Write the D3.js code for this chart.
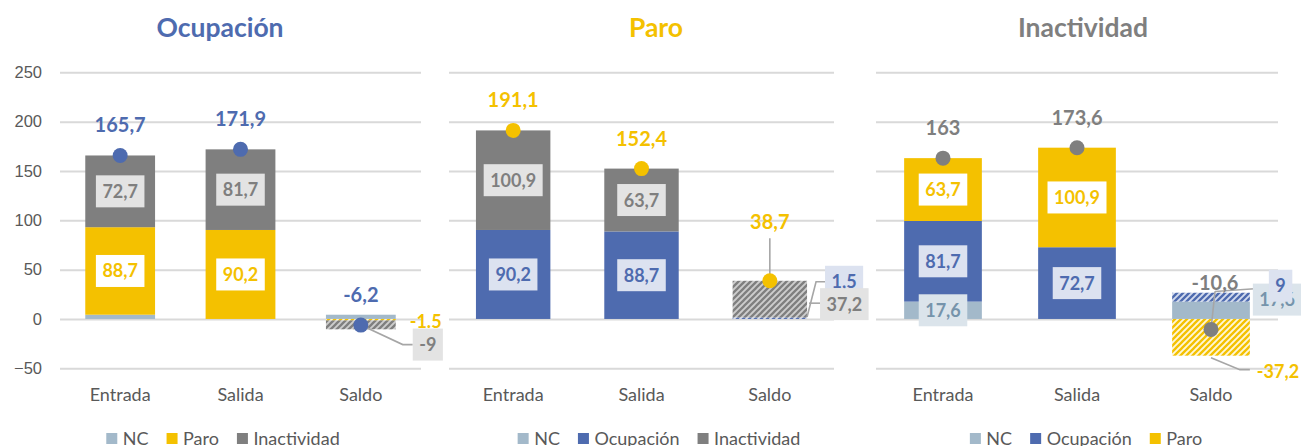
<!DOCTYPE html>
<html>
<head>
<meta charset="utf-8">
<script src="https://cdn.jsdelivr.net/npm/d3@7"></script>
<style>
body { margin: 0; background: #fff; }
svg { display: block; font-family: Lato, "Open Sans", sans-serif; }
.grid line { stroke: #d9d9d9; stroke-width: 2; }
.grid .domain { display: none; }
.grid text { fill: #595959; font-size: 16.5px; }
.cat { fill: #595959; font-size: 18px; }
.legend text { fill: #595959; font-size: 18px; }
.lbl { font-size: 18px; font-weight: bold; }
.tot { font-size: 20px; font-weight: bold; }
.title { font-size: 26.5px; font-weight: bold; }
.leader { stroke: #a6a6a6; stroke-width: 1.6; fill: none; }
</style>
</head>
<body>
<div id="chart"></div>
<script>
var categories = ["Entrada", "Salida", "Saldo"];
var yTicks = [-50, 0, 50, 100, 150, 200, 250];

// Ocupación
var ocupNC = [4.3, 0, 4.3];
var ocupParo = [88.7, 90.2, -1.5];
var ocupInact = [72.7, 81.7, -9];
var ocupTotal = [165.7, 171.9, -6.2];

// Paro
var paroNC = [0, 0, 0];
var paroOcup = [90.2, 88.7, 1.5];
var paroInact = [100.9, 63.7, 37.2];
var paroTotal = [191.1, 152.4, 38.7];

// Inactividad
var inactNC = [17.6, 0, 17.6];
var inactOcup = [81.7, 72.7, 9];
var inactParo = [63.7, 100.9, -37.2];
var inactTotal = [163, 173.6, -10.6];

var blue = "#4e6baf", yellow = "#f4c100", grey = "#7f7f7f", nc = "#a3b9ca";
var styles = {
    NC: { color: nc, box: "#dbe4eb", text: "#7694ab" },
    "Ocupación": { color: blue, box: "#dce2f0", text: blue },
    Paro: { color: yellow, box: "#ffffff", text: yellow },
    Inactividad: { color: grey, box: "#e3e3e3", text: grey }
};

var locale = d3.formatLocale({ decimal: ",", thousands: ".", grouping: [3], currency: ["", ""], minus: "-" });
var fmt = locale.format(".1~f");

function init(){
    var w = 1301;
    var h = 446;

    var svg = d3.select("#chart")
                .append("svg")
                .attr("width", w)
                .attr("height", h);

    var defs = svg.append("defs");
    addHatch(defs, "h-Ocupación", blue, "#d3dbee");
    addHatch(defs, "h-Paro", yellow, "#fff7d6");
    addHatch(defs, "h-Inactividad", grey, "#cdcdcd");

    drawPanel(svg, {
        title: "Ocupación", titleColor: blue, x0: 60, x1: 421, cx: 220, ticks: true,
        keys: ["NC", "Paro", "Inactividad"], values: [ocupNC, ocupParo, ocupInact], total: ocupTotal,
        saldo: function(g, c){
            // the source writes this one with a dot
            g.append("text").attr("class", "lbl").attr("fill", yellow)
                .attr("x", c.R + 14).attr("y", c.y(0) + 9)
                .text(fmt(ocupParo[2]).replace(",", "."));
            var cy = c.y(ocupTotal[2]) + 19.5;
            leader(g, [[c.cx, c.y(ocupTotal[2])], [c.R + 7, cy], [c.R + 17, cy]]);
            boxLabel(g, c.R + 17, cy, fmt(ocupInact[2]), styles.Inactividad, "start");
        }
    });

    drawPanel(svg, {
        title: "Paro", titleColor: yellow, x0: 449, x1: 834, cx: 656, ticks: false,
        keys: ["NC", "Ocupación", "Inactividad"], values: [paroNC, paroOcup, paroInact], total: paroTotal,
        totalShift: -28.5,
        saldo: function(g, c){
            var cy1 = c.y(paroTotal[2]) + 1;
            var cy2 = c.y(15);
            leader(g, [[c.R, c.y(0) - 2], [c.R + 9, cy1], [c.R + 18, cy1]]);
            leader(g, [[c.R + 2, cy2 - 1], [c.R + 13, cy2 - 1]]);
            boxLabel(g, c.R + 18, cy1, fmt(paroOcup[2]), styles["Ocupación"], "start");
            boxLabel(g, c.R + 13, cy2, fmt(paroInact[2]), styles.Inactividad, "start");
        }
    });

    drawPanel(svg, {
        title: "Inactividad", titleColor: grey, x0: 876, x1: 1278, cx: 1083, ticks: false,
        keys: ["NC", "Ocupación", "Paro"], values: [inactNC, inactOcup, inactParo], total: inactTotal,
        totalShift: -16, totalDx: 4,
        saldo: function(g, c){
            var top = c.y(inactTotal[2]) - 38;
            leader(g, [[c.cx, c.y(inactTotal[2])], [c.cx + 4, top]]);
            leader(g, [[c.cx + 4, top], [c.R + 19, c.y(26.6) - 5]]);
            var yb = c.y(inactParo[2]);
            leader(g, [[c.cx, yb + 2], [c.R - 10, yb + 14], [c.R, yb + 14]]);
            g.append("text").attr("class", "lbl").attr("fill", yellow)
                .attr("x", c.R + 7).attr("y", yb + 22)
                .text(fmt(inactParo[2]));
            boxLabel(g, c.R + 3, c.y(inactNC[2]) - 2, fmt(inactNC[2]), styles.NC, "start");
            boxLabel(g, c.R + 19, c.y(26.6) - 7, fmt(inactOcup[2]), styles["Ocupación"], "start");
        }
    });
}

function addHatch(defs, id, fg, bg){
    var pat = defs.append("pattern")
        .attr("id", id)
        .attr("patternUnits", "userSpaceOnUse")
        .attr("width", 6)
        .attr("height", 6);
    pat.append("rect").attr("width", 6).attr("height", 6).attr("fill", bg);
    pat.append("path")
        .attr("d", "M-1,1 l2,-2 M0,6 l6,-6 M5,7 l2,-2")
        .attr("stroke", fg)
        .attr("stroke-width", 2.3);
}

function leader(g, pts){
    g.append("path").attr("class", "leader").attr("d", d3.line()(pts));
}

function boxLabel(g, x, cy, txt, st, anchor){
    var t = g.append("text")
        .attr("class", "lbl")
        .attr("text-anchor", "middle")
        .attr("y", cy + 6.5)
        .attr("fill", st.text)
        .text(txt);
    var bw = t.node().getComputedTextLength() + 13;
    var cx = anchor == "start" ? x + bw / 2 : x;
    t.attr("x", cx);
    g.insert("rect", function(){ return t.node(); })
        .attr("x", cx - bw / 2)
        .attr("y", cy - 16)
        .attr("width", bw)
        .attr("height", 32)
        .attr("fill", st.box);
}

function drawPanel(svg, p){
    var g = svg.append("g");

    var xScale = d3.scaleBand()
                .domain(categories)
                .range([p.x0, p.x1])
                .paddingInner(0.42)
                .paddingOuter(0.21);

    var yScale = d3.scaleLinear()
                .domain([-50, 250])
                .range([368.3, 72.3]);

    //grid lines and y axis
    var yAxis = d3.axisLeft(yScale)
        .tickValues(yTicks)
        .tickSize(-(p.x1 - p.x0))
        .tickPadding(18);
    if (!p.ticks) yAxis.tickFormat("");
    g.append("g")
        .attr("class", "grid")
        .attr("transform", "translate(" + p.x0 + ",0)")
        .call(yAxis);

    //title
    g.append("text")
        .attr("class", "title")
        .attr("x", p.cx)
        .attr("y", 37)
        .attr("text-anchor", "middle")
        .attr("fill", p.titleColor)
        .text(p.title);

    //stacked bars
    var rows = categories.map(function(c, i){
        var r = { cat: c };
        p.keys.forEach(function(k, j){ r[k] = p.values[j][i]; });
        return r;
    });
    var series = d3.stack().keys(p.keys).offset(d3.stackOffsetDiverging)(rows);

    series.forEach(function(s){
        g.append("g").selectAll("rect")
            .data(s)
            .enter()
            .append("rect")
            .attr("x", function(d){ return xScale(d.data.cat); })
            .attr("width", xScale.bandwidth())
            .attr("y", function(d){ return yScale(Math.max(d[0], d[1])); })
            .attr("height", function(d){ return Math.abs(yScale(d[0]) - yScale(d[1])); })
            .attr("fill", function(d){
                return (d.data.cat == "Saldo" && s.key != "NC") ? "url(#h-" + s.key + ")" : styles[s.key].color;
            });
    });

    //segment labels for Entrada / Salida
    series.forEach(function(s){
        s.forEach(function(d){
            var v = d.data[s.key];
            if (d.data.cat == "Saldo" || Math.abs(v) < 10) return;
            var cy = yScale((d[0] + d[1]) / 2);
            boxLabel(g, xScale(d.data.cat) + xScale.bandwidth() / 2, cy, fmt(v), styles[s.key], "middle");
        });
    });

    //saldo labels and leader lines
    var sx = xScale("Saldo");
    p.saldo(g, { y: yScale, cx: sx + xScale.bandwidth() / 2, R: sx + xScale.bandwidth() });

    //totals: dots and labels
    categories.forEach(function(c, i){
        var cx = xScale(c) + xScale.bandwidth() / 2;
        var cy = yScale(p.total[i]);
        var shift = (c == "Saldo" && p.totalShift) ? p.totalShift : 0;
        var dx = (c == "Saldo" && p.totalDx) ? p.totalDx : 0;
        if (c == "Saldo" && p.title == "Paro") {
            leader(g, [[cx, cy - 23 + shift + 9], [cx, cy]]);
        }
        g.append("circle")
            .attr("cx", cx)
            .attr("cy", cy)
            .attr("r", 7.5)
            .attr("fill", p.titleColor);
        g.append("text")
            .attr("class", "tot")
            .attr("x", cx + dx)
            .attr("y", cy - 23 + shift)
            .attr("text-anchor", "middle")
            .attr("fill", p.titleColor)
            .text(fmt(p.total[i]));
    });

    //category labels
    g.selectAll("text.cat")
        .data(categories)
        .enter()
        .append("text")
        .attr("class", "cat")
        .attr("x", function(d){ return xScale(d) + xScale.bandwidth() / 2; })
        .attr("y", 401)
        .attr("text-anchor", "middle")
        .text(function(d){ return d; });

    //legend
    var leg = g.append("g").attr("class", "legend");
    var x = 0;
    p.keys.forEach(function(k){
        leg.append("rect")
            .attr("x", x)
            .attr("y", 433)
            .attr("width", 11)
            .attr("height", 11)
            .attr("fill", styles[k].color);
        var t = leg.append("text")
            .attr("x", x + 16.5)
            .attr("y", 445)
            .text(k);
        x += 16.5 + t.node().getComputedTextLength() + 18;
    });
    x -= 18;
    leg.attr("transform", "translate(" + (p.cx + 3 - x / 2) + ",0)");
}

window.onload = init;
</script>
</body>
</html>
